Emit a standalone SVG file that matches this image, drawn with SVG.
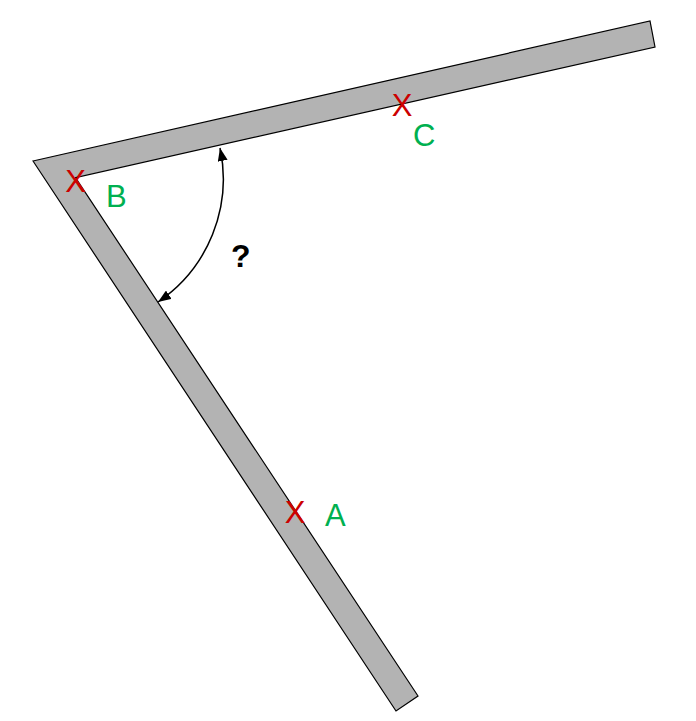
<svg xmlns="http://www.w3.org/2000/svg" width="696" height="721" viewBox="0 0 696 721">
<style>
.bar{fill:#b3b3b3;stroke:#000;stroke-width:1.2;stroke-linejoin:miter}
.x{fill:#cc0000;font-family:"Liberation Sans",Arial,sans-serif;font-size:31px}
.lbl{fill:#00b050;font-family:"Liberation Sans",Arial,sans-serif;font-size:31px}
.q{fill:#000;font-family:"Liberation Sans",Arial,sans-serif;font-size:32px;font-weight:bold}
.arc{fill:none;stroke:#000;stroke-width:1.5}
</style>
<defs>
<marker id="ah" viewBox="0 0 13 10" refX="13" refY="5" markerWidth="13" markerHeight="10" markerUnits="userSpaceOnUse" orient="auto-start-reverse">
<path d="M0,0 L13,5 L0,10 z" fill="#000"/>
</marker>
</defs>
<g id="bars">
<polygon class="bar" points="33,161 650,21 655,47 75.5,177.6 418,696 396,711"/>
</g>
<g id="connectors">
<path class="arc" d="M220,148 A148.5 148.5 0 0 1 158,302" marker-start="url(#ah)" marker-end="url(#ah)"/>
</g>
<g id="pointB"><text class="x" x="75.5" y="192" text-anchor="middle">X</text><text class="lbl" x="106" y="207">B</text></g>
<g id="pointC"><text class="x" x="402" y="116" text-anchor="middle">X</text><text class="lbl" x="413" y="146">C</text></g>
<g id="pointA"><text class="x" x="295" y="523" text-anchor="middle">X</text><text class="lbl" x="325" y="526">A</text></g>
<g id="angle"><text class="q" x="231" y="267">?</text></g>
</svg>
